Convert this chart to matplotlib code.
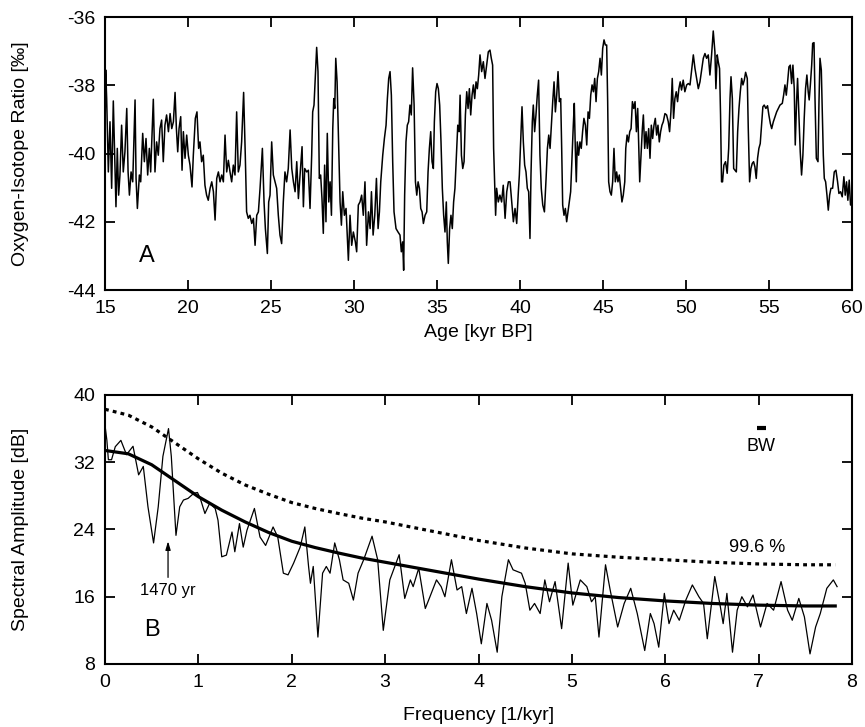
import numpy as np
import matplotlib
matplotlib.use("Agg")
import matplotlib.pyplot as plt

plt.rcParams['font.family'] = ['Liberation Sans', 'DejaVu Sans']
plt.rcParams['axes.unicode_minus'] = False

# ---- panel A: oxygen isotope record ----
age_kyr = [
    15.00, 15.04, 15.10, 15.20, 15.30, 15.40, 15.50, 15.58, 15.66, 15.74, 15.82, 15.90,
    16.00, 16.10, 16.20, 16.31, 16.39, 16.47, 16.57, 16.67, 16.81, 16.87, 16.95,
    17.07, 17.15, 17.27, 17.37, 17.47, 17.57, 17.67, 17.75, 17.83, 17.91,
    18.01, 18.11, 18.21, 18.31, 18.41, 18.51, 18.61, 18.71, 18.82, 18.92,
    19.02, 19.12, 19.22, 19.30, 19.38, 19.46, 19.56, 19.64, 19.72, 19.82, 19.92,
    20.02, 20.12, 20.24, 20.32, 20.44, 20.54, 20.64, 20.72, 20.82, 20.92,
    21.02, 21.12, 21.22, 21.33, 21.43, 21.53, 21.63, 21.73, 21.83, 21.93,
    22.03, 22.13, 22.23, 22.33, 22.43, 22.53, 22.63, 22.73, 22.83, 22.93,
    23.03, 23.13, 23.23, 23.35, 23.45, 23.53, 23.63, 23.73, 23.84, 23.94,
    24.04, 24.14, 24.24, 24.34, 24.48, 24.58, 24.66, 24.78, 24.86, 24.94,
    25.04, 25.14, 25.24, 25.34, 25.44, 25.54, 25.64, 25.74, 25.84, 25.94,
    26.04, 26.15, 26.25, 26.35, 26.45, 26.55, 26.65, 26.75, 26.87, 26.95,
    27.03, 27.15, 27.25, 27.35, 27.45, 27.51, 27.59, 27.67, 27.75, 27.83, 27.91, 27.99,
    28.07, 28.15, 28.23, 28.31, 28.39, 28.48, 28.56, 28.64, 28.72, 28.78, 28.84, 28.90, 28.98,
    29.06, 29.16, 29.24, 29.32, 29.42, 29.52, 29.60, 29.66, 29.76, 29.86, 29.96,
    30.08, 30.16, 30.26, 30.36, 30.46, 30.56, 30.66, 30.76, 30.87, 30.97,
    31.05, 31.15, 31.25, 31.35, 31.45, 31.53, 31.61, 31.73, 31.83, 31.93,
    32.01, 32.09, 32.17, 32.25, 32.33, 32.41, 32.53, 32.65, 32.77, 32.85, 32.93, 32.99,
    33.05, 33.13, 33.21, 33.29, 33.37, 33.45, 33.53, 33.62, 33.70, 33.78, 33.86, 33.94,
    34.02, 34.10, 34.18, 34.28, 34.38, 34.46, 34.54, 34.62, 34.70, 34.78, 34.84, 34.92,
    35.00, 35.08, 35.16, 35.24, 35.32, 35.40, 35.48, 35.56, 35.62, 35.68, 35.76, 35.84, 35.92,
    36.00, 36.08, 36.16, 36.25, 36.33, 36.39, 36.47, 36.55, 36.63, 36.71, 36.79, 36.87, 36.95,
    37.03, 37.11, 37.19, 37.27, 37.35, 37.43, 37.51, 37.59, 37.69, 37.79, 37.89, 37.99,
    38.09, 38.19, 38.27, 38.35, 38.41, 38.47, 38.53, 38.59, 38.69, 38.79, 38.89, 38.99,
    39.10, 39.20, 39.30, 39.40, 39.50, 39.60, 39.70, 39.80, 39.90, 39.96,
    40.04, 40.12, 40.20, 40.28, 40.36, 40.44, 40.52, 40.60, 40.66, 40.74, 40.80, 40.88, 40.96,
    41.04, 41.12, 41.20, 41.28, 41.37, 41.47, 41.57, 41.65, 41.73, 41.81, 41.89, 41.97,
    42.05, 42.13, 42.21, 42.29, 42.37, 42.45, 42.51, 42.57, 42.65, 42.73, 42.81, 42.89, 42.97,
    43.05, 43.13, 43.21, 43.27, 43.33, 43.39, 43.45, 43.53, 43.61, 43.69, 43.77, 43.85, 43.94,
    44.02, 44.10, 44.18, 44.26, 44.34, 44.42, 44.50, 44.58, 44.66, 44.74, 44.82, 44.90, 44.98,
    45.06, 45.14, 45.22, 45.28, 45.34, 45.42, 45.50, 45.58, 45.66, 45.74, 45.82, 45.90, 45.98,
    46.06, 46.14, 46.22, 46.31, 46.37, 46.45, 46.53, 46.61, 46.69, 46.77, 46.85, 46.93,
    47.01, 47.09, 47.17, 47.21, 47.29, 47.37, 47.43, 47.51, 47.59, 47.67, 47.75, 47.83, 47.91, 47.99,
    48.07, 48.15, 48.23, 48.31, 48.39, 48.47, 48.55, 48.63, 48.73, 48.83, 48.93,
    49.01, 49.09, 49.17, 49.25, 49.33, 49.41, 49.49, 49.57, 49.65, 49.73, 49.83, 49.93,
    50.04, 50.14, 50.24, 50.34, 50.44, 50.54, 50.64, 50.74, 50.84, 50.94,
    51.04, 51.14, 51.24, 51.34, 51.44, 51.54, 51.64, 51.74, 51.80, 51.88, 51.94,
    52.02, 52.08, 52.14, 52.20, 52.28, 52.38, 52.48, 52.57, 52.65, 52.71, 52.79, 52.87, 52.95,
    53.03, 53.11, 53.19, 53.27, 53.35, 53.43, 53.51, 53.59, 53.69, 53.75, 53.83, 53.91, 53.99,
    54.07, 54.15, 54.23, 54.31, 54.39, 54.47, 54.55, 54.63, 54.71, 54.81, 54.91, 54.99,
    55.08, 55.16, 55.26, 55.36, 55.46, 55.56, 55.66, 55.80, 55.88, 55.96,
    56.04, 56.12, 56.20, 56.28, 56.36, 56.44, 56.52, 56.58, 56.66, 56.72, 56.80, 56.88, 56.96,
    57.04, 57.12, 57.20, 57.28, 57.36, 57.42, 57.49, 57.57, 57.63, 57.71, 57.77, 57.85, 57.95,
    58.01, 58.07, 58.15, 58.21, 58.27, 58.33, 58.41, 58.49, 58.57, 58.65, 58.73, 58.83, 58.93,
    59.03, 59.13, 59.21, 59.31, 59.41, 59.51, 59.59, 59.67, 59.75, 59.83, 59.91, 60.00,
]
d18o = [
    -39.50, -37.55, -38.39, -40.54, -39.07, -41.02, -38.46, -40.05, -41.56, -39.85, -41.22, -40.63,
    -39.17, -40.54, -39.95, -38.68, -40.54, -41.22, -40.54, -40.83, -38.43, -40.73, -41.61,
    -40.63, -40.83, -39.41, -40.24, -39.56, -40.63, -39.85, -40.54, -39.46, -38.41,
    -40.54, -39.66, -40.05, -39.27, -39.02, -40.24, -39.17, -38.87, -39.36, -38.83,
    -39.27, -39.07, -38.21, -39.27, -39.95, -39.27, -38.92, -40.49, -39.36, -40.14, -39.46,
    -40.05, -40.34, -40.98, -40.05, -38.97, -38.78, -39.85, -39.66, -40.24, -40.05,
    -40.93, -41.22, -41.37, -41.02, -40.83, -41.12, -41.95, -40.73, -40.54, -40.83,
    -40.63, -40.83, -39.46, -40.54, -40.20, -40.54, -40.83, -40.34, -40.63, -38.78,
    -40.54, -40.34, -39.66, -38.21, -40.05, -41.71, -41.90, -41.81, -42.05, -41.90,
    -42.69, -41.81, -41.71, -41.02, -39.85, -41.42, -42.20, -42.93, -41.42, -41.22,
    -39.66, -40.63, -40.83, -41.02, -41.81, -42.39, -42.64, -41.42, -40.54, -40.83,
    -40.44, -39.31, -40.44, -40.83, -41.12, -40.24, -41.32, -40.63, -39.80, -41.56,
    -40.44, -40.54, -40.49, -41.61, -40.05, -38.78, -38.58, -37.70, -36.89, -37.60, -40.73, -40.63,
    -41.32, -42.34, -40.34, -42.00, -39.41, -41.42, -40.83, -41.81, -39.27, -38.39, -38.68, -37.21, -37.90,
    -39.46, -41.42, -42.10, -41.12, -41.81, -41.61, -42.49, -43.13, -41.81, -42.69, -42.30,
    -42.59, -42.88, -41.51, -41.42, -41.22, -41.81, -40.83, -42.69, -41.71, -42.20,
    -41.12, -42.39, -41.81, -40.73, -42.20, -41.71, -40.83, -40.05, -39.56, -39.17,
    -38.39, -37.80, -37.60, -38.29, -40.24, -41.71, -42.20, -42.30, -42.39, -42.88, -42.59, -43.42,
    -41.22, -39.66, -39.17, -39.07, -38.58, -38.87, -37.49, -38.58, -40.83, -41.22, -40.83, -41.02,
    -41.61, -41.71, -42.05, -41.81, -41.71, -40.54, -39.85, -39.36, -40.24, -40.44, -39.07, -38.19,
    -37.95, -38.10, -38.58, -39.66, -41.02, -41.81, -42.30, -41.42, -42.59, -43.22, -42.20, -41.81, -42.20,
    -41.42, -41.02, -40.14, -39.17, -39.36, -38.29, -40.05, -40.44, -40.24, -38.87, -38.19, -38.68, -38.10,
    -38.87, -38.29, -37.99, -38.39, -37.90, -38.10, -37.70, -37.11, -37.60, -37.31, -37.80, -37.41,
    -37.02, -36.97, -37.21, -37.41, -39.85, -40.83, -41.81, -41.02, -41.42, -41.22, -41.42, -40.93,
    -41.90, -41.12, -40.83, -40.83, -41.42, -42.00, -41.61, -42.05, -41.12, -40.63,
    -39.66, -38.63, -39.66, -40.34, -40.54, -41.02, -41.12, -42.49, -40.63, -39.07, -38.58, -39.36, -38.87,
    -38.29, -37.85, -40.05, -41.02, -41.51, -41.71, -40.73, -39.85, -39.46, -39.85, -39.17, -38.48,
    -37.90, -38.78, -38.29, -37.60, -38.48, -38.39, -39.85, -41.51, -41.81, -41.61, -42.00, -41.71, -41.42,
    -41.12, -40.14, -39.17, -38.53, -39.85, -40.83, -39.66, -40.05, -39.66, -39.85, -39.36, -38.97, -39.17,
    -39.75, -38.78, -38.97, -38.29, -37.99, -38.19, -37.80, -38.48, -37.80, -37.60, -37.21, -37.70, -36.92,
    -36.67, -36.82, -36.82, -38.48, -40.83, -41.12, -41.22, -40.83, -39.85, -40.83, -40.54, -40.83, -40.63,
    -41.02, -41.42, -41.22, -40.83, -39.85, -39.46, -39.66, -39.36, -39.27, -38.48, -38.68, -38.48,
    -39.36, -38.68, -40.05, -40.83, -40.05, -39.27, -38.87, -39.85, -39.36, -39.85, -39.27, -40.14, -39.17, -39.56,
    -39.17, -38.97, -39.46, -39.17, -39.66, -39.36, -39.17, -39.07, -38.83, -38.87, -39.07,
    -39.36, -38.78, -37.80, -38.97, -38.39, -38.19, -38.48, -38.10, -37.90, -38.14, -37.85, -38.19,
    -37.99, -37.95, -37.99, -37.55, -37.11, -37.51, -37.80, -38.10, -37.90, -37.55,
    -37.21, -37.07, -37.21, -37.11, -37.70, -37.11, -36.41, -37.02, -38.10, -37.11, -37.31,
    -37.51, -38.87, -40.83, -40.83, -40.34, -40.24, -40.58, -39.85, -38.39, -37.75, -38.39, -40.44, -40.49,
    -40.54, -39.36, -38.68, -38.19, -37.80, -37.99, -37.85, -37.62, -37.80, -39.27, -40.83, -40.44, -40.29,
    -40.24, -40.39, -40.73, -40.14, -39.85, -39.71, -39.17, -38.63, -38.58, -38.68, -38.60, -38.87,
    -39.12, -39.27, -39.07, -38.92, -38.78, -38.68, -38.58, -38.53, -38.29, -37.99,
    -38.29, -37.90, -37.46, -37.41, -37.95, -37.41, -38.10, -39.75, -38.48, -37.80, -38.87, -39.95, -40.63,
    -40.05, -38.97, -38.10, -37.70, -38.19, -38.43, -37.99, -37.41, -36.77, -36.75, -38.39, -40.14, -40.24,
    -38.48, -37.21, -37.55, -38.87, -40.05, -40.73, -40.83, -41.22, -41.66, -41.22, -41.02, -41.02, -40.54,
    -40.49, -40.83, -41.17, -41.12, -41.27, -40.68, -41.22, -40.83, -41.37, -40.78, -41.51, -41.42,
]

# ---- panel B: amplitude spectrum ----
freq = [
    0.00, 0.02, 0.036, 0.07, 0.11, 0.17, 0.23, 0.30, 0.36, 0.41, 0.46, 0.52, 0.57, 0.62, 0.68,
    0.71, 0.76, 0.80, 0.84, 0.89, 0.95, 0.99, 1.02, 1.07, 1.12, 1.18, 1.21, 1.25, 1.30, 1.36,
    1.39, 1.44, 1.48, 1.52, 1.60, 1.66, 1.72, 1.80, 1.85, 1.91, 1.96, 2.02, 2.09, 2.14, 2.18,
    2.20, 2.23, 2.28, 2.33, 2.37, 2.41, 2.46, 2.51, 2.55, 2.61, 2.66, 2.71, 2.77, 2.86, 2.92,
    2.98, 3.05, 3.15, 3.21, 3.27, 3.30, 3.36, 3.43, 3.48, 3.55, 3.60, 3.64, 3.71, 3.77, 3.82,
    3.87, 3.93, 3.98, 4.03, 4.09, 4.14, 4.20, 4.25, 4.32, 4.37, 4.46, 4.50, 4.55, 4.60, 4.66,
    4.71, 4.76, 4.82, 4.89, 4.96, 5.01, 5.09, 5.16, 5.21, 5.25, 5.29, 5.36, 5.41, 5.49, 5.56,
    5.63, 5.70, 5.78, 5.84, 5.88, 5.93, 5.99, 6.04, 6.09, 6.15, 6.22, 6.29, 6.36, 6.41, 6.45,
    6.53, 6.59, 6.62, 6.66, 6.72, 6.77, 6.82, 6.88, 6.94, 7.02, 7.09, 7.16, 7.24, 7.31, 7.36,
    7.43, 7.49, 7.55, 7.61, 7.66, 7.73, 7.80, 7.84,
]
amp_db = [
    36.4, 34.6, 32.3, 32.3, 33.85, 34.6, 32.9, 33.9, 30.5, 31.5, 26.7, 22.4, 26.7, 32.7, 36.0,
    32.7, 23.3, 26.7, 27.5, 27.7, 28.3, 28.4, 27.7, 25.9, 27.1, 26.5, 25.1, 20.75, 20.95, 23.7,
    21.35, 24.7, 21.9, 23.9, 26.5, 23.1, 22.1, 24.3, 23.1, 18.8, 18.6, 20.0, 21.9, 24.3, 19.6,
    17.6, 19.6, 11.2, 18.8, 19.6, 18.8, 22.4, 20.4, 18.0, 17.6, 15.6, 18.8, 20.4, 23.2, 20.4,
    12.0, 18.0, 21.0, 15.8, 18.0, 17.2, 19.4, 14.6, 16.0, 18.0, 17.2, 16.0, 20.4, 16.8, 17.2,
    14.0, 17.0, 14.0, 10.4, 15.2, 13.2, 9.4, 16.0, 20.4, 19.2, 18.8, 17.6, 14.4, 15.2, 14.0,
    18.0, 15.4, 17.8, 12.2, 20.0, 15.0, 18.0, 17.2, 15.4, 16.0, 11.2, 19.8, 16.8, 12.4, 15.2,
    17.0, 14.0, 9.6, 14.0, 12.8, 10.0, 16.4, 12.8, 14.4, 13.2, 15.6, 17.4, 16.0, 15.2, 11.0,
    18.4, 14.8, 12.8, 16.4, 9.4, 14.4, 16.0, 14.8, 16.2, 12.4, 15.2, 14.4, 17.8, 14.4, 13.2,
    15.8, 13.6, 9.2, 12.4, 14.0, 17.0, 18.0, 17.2,
]

# red-noise fit and 99.6 % level
fit_freq = [0.0, 0.25, 0.5, 0.75, 1.0, 1.25, 1.5, 1.75, 2.0, 2.25, 2.5, 2.75, 3.0,
            3.5, 4.0, 4.5, 5.0, 5.5, 6.0, 6.5, 7.0, 7.5, 7.82]
fit_db = [33.4, 33.0, 31.7, 29.8, 27.9, 26.3, 24.9, 23.65, 22.6, 21.85, 21.2, 20.6, 20.1,
          19.1, 18.1, 17.2, 16.45, 15.9, 15.5, 15.2, 15.0, 14.9, 14.9]
sig_db = [38.3, 37.6, 36.2, 34.3, 32.4, 30.7, 29.3, 28.2, 27.2, 26.5, 25.9, 25.35, 24.9,
          23.8, 22.7, 21.8, 21.1, 20.7, 20.4, 20.1, 19.9, 19.8, 19.8]

# bandwidth bar
bw_freq = [6.98, 7.08]
bw_db = [36.1, 36.1]

fig = plt.figure(figsize=(8.65, 7.27), dpi=100)
axA = fig.add_axes([0.1214, 0.6011, 0.8636, 0.3755])
axB = fig.add_axes([0.1214, 0.0867, 0.8636, 0.3700])

def style(ax):
    for s in ax.spines.values():
        s.set_linewidth(1.5)
    ax.tick_params(direction='in', top=True, right=True, length=7, width=1.3,
                   labelsize=14, pad=7)

# panel A
axA.plot(age_kyr, d18o, color='black', lw=1.1)
axA.set_xlim(15, 60)
axA.set_ylim(-44, -36)
axA.set_xticks(np.arange(15, 61, 5))
axA.set_yticks(np.arange(-44, -35, 2))
style(axA)
axA.set_xlabel('Age [kyr BP]', fontsize=14, labelpad=5)
axA.set_ylabel('Oxygen-Isotope Ratio [‰]', fontsize=14)
axA.yaxis.set_label_coords(-0.102, 0.5)
axA.text(17.5, -43.0, 'A', fontsize=17, ha='center', va='center')

# panel B
axB.plot(freq, amp_db, color='black', lw=0.9)
axB.plot(fit_freq, fit_db, color='black', lw=2.3)
axB.plot(fit_freq, sig_db, color='black', lw=2.3, linestyle=(0, (1.2, 1.3)))
axB.plot(bw_freq, bw_db, color='black', lw=3, solid_capstyle='butt')
axB.set_xlim(0, 8)
axB.set_ylim(8, 40)
axB.set_xticks(np.arange(0, 9, 1))
axB.set_yticks(np.arange(8, 41, 8))
style(axB)
axB.set_xlabel('Frequency [1/kyr]', fontsize=14, labelpad=12)
axB.set_ylabel('Spectral Amplitude [dB]', fontsize=14)
axB.yaxis.set_label_coords(-0.102, 0.5)
axB.text(0.5, 12.1, 'B', fontsize=17, ha='center', va='center')
axB.text(7.03, 33.9, 'BW', fontsize=13, ha='center', va='center')
axB.text(6.98, 21.9, '99.6 %', fontsize=13, ha='center', va='center')
axB.annotate('', xy=(0.675, 22.6), xytext=(0.675, 18.3),
             arrowprops=dict(arrowstyle='-|>,head_length=0.5,head_width=0.15',
                             color='black', lw=0.9, shrinkA=0, shrinkB=0))
axB.text(0.675, 16.7, '1470 yr', fontsize=12, ha='center', va='center')

fig.savefig('out.png', dpi=100)
